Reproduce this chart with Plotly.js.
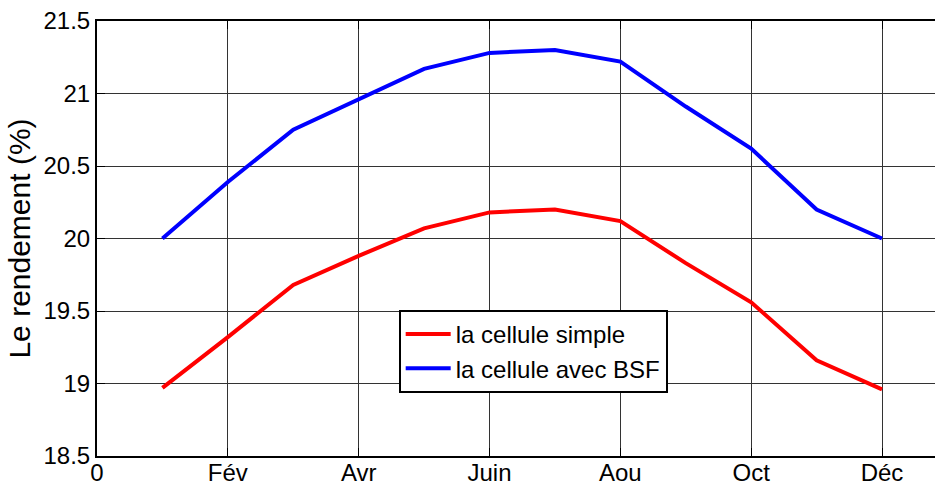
<!DOCTYPE html>
<html>
<head>
<meta charset="utf-8">
<script src="https://cdn.plot.ly/plotly-3.0.1.min.js"></script>
<style>html,body{margin:0;padding:0;background:#fff;overflow:hidden}</style>
</head>
<body>
<div id="chart" style="width:935px;height:486px"></div>
<script>
const months = [1,2,3,4,5,6,7,8,9,10,11,12];
const simple = [18.97,19.32,19.68,19.88,20.07,20.18,20.20,20.12,19.83,19.56,19.16,18.96];
const bsf = [20.00,20.39,20.75,20.96,21.17,21.28,21.30,21.22,20.91,20.62,20.20,20.00];
const xTickVals = [0,2,4,6,8,10,12];
const xTickText = ['0','Fév','Avr','Juin','Aou','Oct','Déc'];
const yTickVals = [18.5,19,19.5,20,20.5,21,21.5];
const yTickText = ['18.5','19','19.5','20','20.5','21','21.5'];

const font = 'Liberation Sans, Arial, sans-serif';
const data = [
  {x: months, y: simple, type:'scatter', mode:'lines', name:'la cellule simple',
   line:{color:'#ff0000', width:4}},
  {x: months, y: bsf, type:'scatter', mode:'lines', name:'la cellule avec BSF',
   line:{color:'#0000ff', width:4}}
];
const layout = {
  width:935, height:486,
  margin:{l:97, r:0, t:21, b:30},
  paper_bgcolor:'#fff', plot_bgcolor:'#fff',
  font:{family:font, size:24, color:'#000'},
  showlegend:true,
  legend:{x:0.36, y:0.336, xanchor:'left', yanchor:'top',
    bordercolor:'#000', borderwidth:2, bgcolor:'#fff',
    font:{family:font, size:24, color:'#000'}, itemwidth:45, tracegroupgap:0},
  xaxis:{range:[0,12.81], tickvals:xTickVals, ticktext:xTickText,
    showgrid:true, gridcolor:'#333', gridwidth:1,
    zeroline:false, showline:true, linecolor:'#000', linewidth:2,
    mirror:'ticks', ticks:'inside', ticklen:8, tickcolor:'#000', tickwidth:1,
    ticklabelstandoff:-6,
    tickfont:{family:font, size:24, color:'#000'}},
  yaxis:{range:[18.5,21.5], tickvals:yTickVals, ticktext:yTickText,
    showgrid:true, gridcolor:'#333', gridwidth:1,
    zeroline:false, showline:true, linecolor:'#000', linewidth:2,
    ticks:'inside', ticklen:8, tickcolor:'#000', tickwidth:1,
    tickfont:{family:font, size:24, color:'#000'},
    title:{text:'Le rendement (%)', font:{family:font, size:30, color:'#000'}, standoff:4}}
};
Plotly.newPlot('chart', data, layout, {displayModeBar:false, staticPlot:true});
</script>
</body>
</html>
